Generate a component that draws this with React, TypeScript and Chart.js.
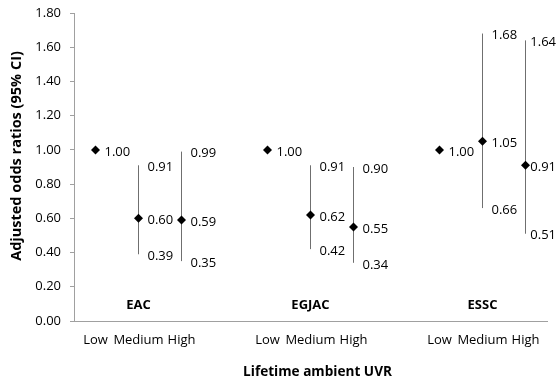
import { useEffect, useRef } from "react";
import { Chart, registerables } from "chart.js";

Chart.register(...registerables);

// ---- data ----
const groups = ["EAC", "EGJAC", "ESSC"];
const groupCenters = [2, 6, 10];
const positions = [1, 2, 3, 5, 6, 7, 9, 10, 11];
const tickLabels = ["Low", "Medium", "High", "Low", "Medium", "High", "Low", "Medium", "High"];
const oddsRatios = [1.0, 0.6, 0.59, 1.0, 0.62, 0.55, 1.0, 1.05, 0.91];
const lowerCI: (number | null)[] = [null, 0.39, 0.35, null, 0.42, 0.34, null, 0.66, 0.51];
const upperCI: (number | null)[] = [null, 0.91, 0.99, null, 0.91, 0.9, null, 1.68, 1.64];
const yTitle = "Adjusted odds ratios (95% CI)";
const xTitle = "Lifetime ambient UVR";

const FONT = '"Open Sans", "DejaVu Sans", sans-serif';

const labelPlugin = {
  id: "orLabels",
  afterDatasetsDraw(chart: any) {
    const { ctx, scales, chartArea } = chart;
    const x = scales.x;
    const y = scales.y;
    ctx.save();
    ctx.fillStyle = "#000";
    ctx.font = `13px ${FONT}`;
    ctx.textBaseline = "middle";
    ctx.textAlign = "left";
    const put = (v: number, px: number, py: number) => {
      const t = v.toFixed(2);
      const w = ctx.measureText(t).width;
      let tx = px + 9;
      if (tx + w > chart.width - 1) tx = chart.width - 1 - w;
      ctx.fillText(t, tx, py + 2);
    };
    positions.forEach((p, i) => {
      const px = x.getPixelForValue(p);
      put(oddsRatios[i], px, y.getPixelForValue(oddsRatios[i]));
      const u = upperCI[i];
      const l = lowerCI[i];
      if (u != null) put(u, px, y.getPixelForValue(u));
      if (l != null) put(l, px, y.getPixelForValue(l));
    });
    ctx.font = `bold 13px ${FONT}`;
    ctx.textAlign = "center";
    groups.forEach((g, i) => {
      ctx.fillText(g, x.getPixelForValue(groupCenters[i]), chartArea.bottom - 16);
    });
    // axis titles
    ctx.font = `bold 13.6px ${FONT}`;
    ctx.fillText(xTitle, (chartArea.left + chartArea.right) / 2 + 7, chart.height - 9);
    ctx.save();
    ctx.font = `bold 14.5px ${FONT}`;
    ctx.translate(17, (chartArea.top + chartArea.bottom) / 2 - 11);
    ctx.rotate(-Math.PI / 2);
    ctx.fillText(yTitle, 0, 0);
    ctx.restore();
    ctx.restore();
  },
};

export default function App() {
  const ref = useRef<HTMLCanvasElement | null>(null);
  useEffect(() => {
    document.body.style.margin = "0";
    const errorBarData: any[] = [];
    positions.forEach((p, i) => {
      const l = lowerCI[i];
      const u = upperCI[i];
      if (l != null && u != null) {
        errorBarData.push({ x: p, y: l }, { x: p, y: u }, { x: p, y: null });
      }
    });
    const chart = new Chart(ref.current as HTMLCanvasElement, {
      type: "scatter",
      data: {
        datasets: [
          {
            label: "Odds ratio",
            data: positions.map((p, i) => ({ x: p, y: oddsRatios[i] })),
            pointStyle: "rectRot",
            pointRadius: 4.5,
            backgroundColor: "#000",
            borderColor: "#000",
            borderWidth: 0,
            showLine: false,
          },
          {
            label: "95% CI",
            data: errorBarData,
            showLine: true,
            spanGaps: false,
            pointRadius: 0,
            borderColor: "#6f6f6f",
            borderWidth: 1,
          },
        ],
      },
      options: {
        animation: false,
        responsive: true,
        maintainAspectRatio: false,
        layout: { padding: { top: 13, right: 10, left: 0, bottom: 0 } },
        plugins: { legend: { display: false }, tooltip: { enabled: false } },
        scales: {
          x: {
            type: "linear",
            min: 0.5,
            max: 11.5,
            afterBuildTicks: (scale: any) => {
              scale.ticks = positions.map((v) => ({ value: v }));
            },
            afterFit: (scale: any) => {
              scale.height = 60;
              scale.paddingLeft = 0;
              scale.paddingRight = 0;
            },
            grid: { display: false, drawTicks: false },
            border: { display: true, color: "#a0a0a0", width: 1 },
            ticks: {
              autoSkip: false,
              maxRotation: 0,
              padding: 11,
              color: "#000",
              font: { family: FONT, size: 13 },
              callback: (value: any) => {
                const idx = positions.indexOf(Number(value));
                return idx >= 0 ? tickLabels[idx] : "";
              },
            },
          },
          y: {
            type: "linear",
            min: 0,
            max: 1.8,
            afterFit: (scale: any) => {
              scale.width = 74;
              scale.paddingTop = 0;
              scale.paddingBottom = 0;
            },
            grid: {
              display: true,
              drawOnChartArea: false,
              drawTicks: true,
              tickLength: 4,
              color: "#a0a0a0",
            },
            border: { display: true, color: "#a0a0a0", width: 1 },
            ticks: {
              stepSize: 0.2,
              padding: 9,
              color: "#000",
              font: { family: FONT, size: 13 },
              callback: (value: any) => Number(value).toFixed(2),
            },
          },
        },
      } as any,
      plugins: [labelPlugin],
    });
    return () => chart.destroy();
  }, []);
  return (
    <div style={{ position: "relative", width: "557px", height: "381px" }}>
      <canvas ref={ref} />
    </div>
  );
}
